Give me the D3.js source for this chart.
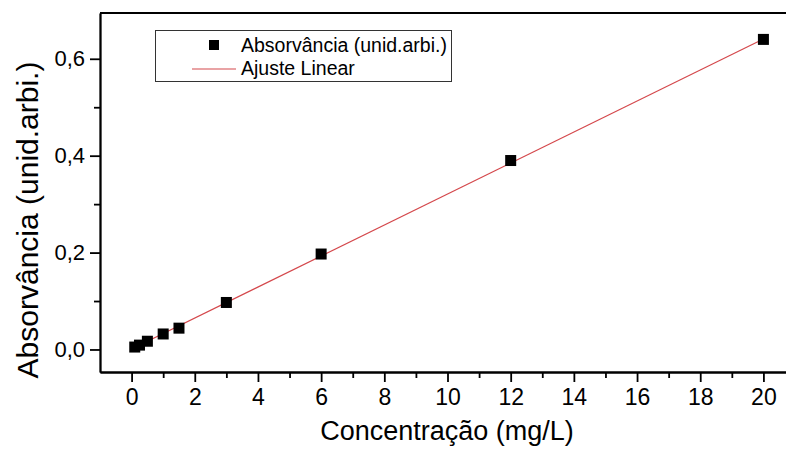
<!DOCTYPE html>
<html>
<head>
<meta charset="utf-8">
<script src="https://cdn.jsdelivr.net/npm/d3@7"></script>
<style>
  html, body { margin: 0; padding: 0; background: #fff; }
  svg { display: block; font-family: "Liberation Sans", Arial, sans-serif; }
  .axis path, .axis line { stroke: #000; stroke-width: 1.8; }
  .axis text { fill: #000; }
</style>
</head>
<body>
<svg id="chart" width="786" height="457"></svg>
<script>
// Calibration measurements: concentration (mg/L) vs absorbance
const concentration = [0.1, 0.25, 0.5, 1, 1.5, 3, 6, 12, 20];
const absorbance = [0.005, 0.009, 0.017, 0.032, 0.044, 0.097, 0.197, 0.390, 0.640];

// Linear fit drawn between its two end points
const fitX = [0.1, 20];
const fitY = [0.004, 0.641];

const xMajorTicks = [0, 2, 4, 6, 8, 10, 12, 14, 16, 18, 20];
const xMinorTicks = [1, 3, 5, 7, 9, 11, 13, 15, 17, 19];
const yMajorTicks = [0, 0.2, 0.4, 0.6];
const yMinorTicks = [0.1, 0.3, 0.5];

const legendLabels = ["Absorvância (unid.arbi.)", "Ajuste Linear"];
const xTitle = "Concentração (mg/L)";
const yTitle = "Absorvância (unid.arbi.)";

const svg = d3.select("#chart");
const plotLeft = 100, plotRight = 786, plotTop = 13, plotBottom = 372;
const fontStack = "'Liberation Sans', Arial, sans-serif";

const x = d3.scaleLinear().domain([-1, 20.715]).range([plotLeft, plotRight]);
const y = d3.scaleLinear().domain([-0.0465, 0.6945]).range([plotBottom, plotTop]);

const fmt = d => d3.format(".1f")(d).replace(".", ",");

// minor ticks (no labels)
svg.append("g").attr("class", "axis")
  .attr("transform", `translate(0,${plotBottom})`)
  .call(d3.axisBottom(x).tickValues(xMinorTicks).tickSize(6).tickSizeOuter(0).tickFormat(""));
svg.append("g").attr("class", "axis")
  .attr("transform", `translate(${plotLeft},0)`)
  .call(d3.axisLeft(y).tickValues(yMinorTicks).tickSize(6).tickSizeOuter(0).tickFormat(""));

// major ticks with labels
const gx = svg.append("g").attr("class", "axis")
  .attr("transform", `translate(0,${plotBottom})`)
  .call(d3.axisBottom(x).tickValues(xMajorTicks).tickSize(10).tickSizeOuter(0).tickPadding(7));
gx.attr("font-family", fontStack).attr("font-size", 23);

const gy = svg.append("g").attr("class", "axis")
  .attr("transform", `translate(${plotLeft},0)`)
  .call(d3.axisLeft(y).tickValues(yMajorTicks).tickSize(10).tickSizeOuter(0).tickPadding(5).tickFormat(fmt));
gy.attr("font-family", fontStack).attr("font-size", 22);

// top frame line
svg.append("line")
  .attr("x1", plotLeft).attr("x2", plotRight).attr("y1", plotTop).attr("y2", plotTop)
  .attr("stroke", "#000").attr("stroke-width", 1.8);

// fit line
svg.append("line")
  .attr("x1", x(fitX[0])).attr("y1", y(fitY[0]))
  .attr("x2", x(fitX[1])).attr("y2", y(fitY[1]))
  .attr("stroke", "#d4484c").attr("stroke-width", 1.2);

// data markers
const s = 11;
svg.append("g").selectAll("rect")
  .data(concentration.map((c, i) => [c, absorbance[i]]))
  .join("rect")
  .attr("x", d => x(d[0]) - s / 2)
  .attr("y", d => y(d[1]) - s / 2)
  .attr("width", s).attr("height", s)
  .attr("fill", "#000");

// axis titles
svg.append("text")
  .attr("x", 447).attr("y", 440)
  .attr("text-anchor", "middle").attr("font-size", 27)
  .text(xTitle);
svg.append("text")
  .attr("transform", "translate(38,220) rotate(-90)")
  .attr("text-anchor", "middle").attr("font-size", 30)
  .text(yTitle);

// legend
const lg = svg.append("g");
lg.append("rect")
  .attr("x", 155.5).attr("y", 30.5).attr("width", 296).attr("height", 51)
  .attr("fill", "#fff").attr("stroke", "#333").attr("stroke-width", 1);
lg.append("rect")
  .attr("x", 214 - 5).attr("y", 45 - 5).attr("width", 10).attr("height", 10)
  .attr("fill", "#000");
lg.append("line")
  .attr("x1", 192).attr("x2", 236).attr("y1", 69).attr("y2", 69)
  .attr("stroke", "#d4484c").attr("stroke-width", 1.2);
lg.selectAll("text.lbl")
  .data(legendLabels)
  .join("text")
  .attr("class", "lbl")
  .attr("x", 241)
  .attr("y", (d, i) => 52 + i * 23)
  .attr("font-size", 19.5)
  .text(d => d);
</script>
</body>
</html>
